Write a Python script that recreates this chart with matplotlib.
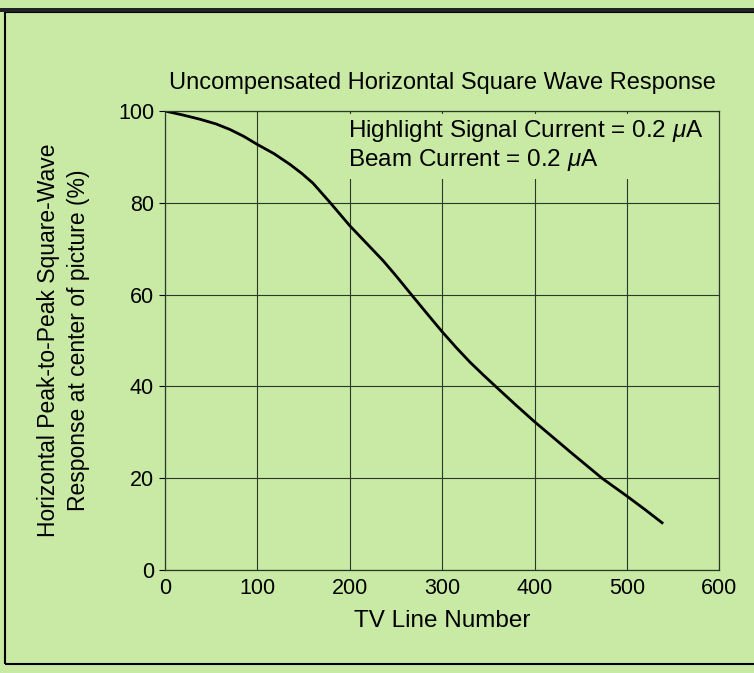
import matplotlib.pyplot as plt
import numpy as np
from matplotlib.patches import Rectangle
from matplotlib import font_manager

# curve
tv_lines = [0, 20, 38, 55, 70, 85, 100, 118, 135, 148, 160, 178, 200, 218, 236, 250, 265,
            283, 300, 315, 330, 345, 360, 380, 400, 420, 440, 473, 500, 520, 538]
response = [100, 99.1, 98.2, 97.2, 96, 94.5, 92.7, 90.7, 88.4, 86.4, 84.3, 80.2, 75, 71.2, 67.4,
            64.1, 60.4, 56, 51.9, 48.5, 45.3, 42.4, 39.6, 35.9, 32.3, 28.9, 25.5, 20, 16.1, 13.1, 10.3]

xticks = [0, 100, 200, 300, 400, 500, 600]
yticks = [0, 20, 40, 60, 80, 100]

bg = '#c8eaa4'
names = {f.name for f in font_manager.fontManager.ttflist}
narrow = 'Liberation Sans Narrow' if 'Liberation Sans Narrow' in names else 'Liberation Sans'
plt.rcParams['font.family'] = ['Liberation Sans', 'DejaVu Sans']
plt.rcParams['mathtext.fontset'] = 'custom'
plt.rcParams['mathtext.it'] = 'Liberation Sans:italic'

fig = plt.figure(figsize=(7.54, 6.73), dpi=100, facecolor=bg)
ax = fig.add_axes([0.219, 0.153, 0.735, 0.682])
ax.set_facecolor(bg)

# panel border
fig.patches.append(Rectangle((0.006, 0.014), 1.0, 0.968, transform=fig.transFigure,
                             fill=False, edgecolor='black', linewidth=1.5))
fig.patches.append(Rectangle((0.0, 0.982), 1.0, 0.006, transform=fig.transFigure,
                             facecolor='#222222', edgecolor='none'))

ax.plot(tv_lines, response, color='black', lw=2.0, solid_joinstyle='round')

ax.set_xlim(0, 600)
ax.set_ylim(0, 100)
ax.set_xticks(xticks)
ax.set_yticks(yticks)
ax.grid(True, color='#2a3a2a', lw=0.8)
for s in ax.spines.values():
    s.set_linewidth(0.9)
    s.set_color('#2a3a2a')
ax.tick_params(axis='x', length=0, pad=6, labelsize=15.5)
ax.tick_params(axis='y', length=4, direction='out', pad=4, labelsize=15.5)

ax.set_xlabel('TV Line Number', fontsize=17.5, labelpad=8)
ax.set_ylabel('Horizontal Peak-to-Peak Square-Wave\nResponse at center of picture (%)',
              fontsize=16.5, labelpad=20, linespacing=1.4)
fig.text(0.587, 0.877, 'Uncompensated Horizontal Square Wave Response',
         ha='center', va='center', fontsize=17, family=[narrow, 'DejaVu Sans'])

# gridlines are broken behind the annotation
ax.add_patch(Rectangle((192, 85.3), 407.5, 14.0, facecolor=bg, edgecolor='none', zorder=2))
ax.text(198, 95.6, r'Highlight Signal Current = 0.2 $\mathit{\mu}$A', fontsize=17.5,
        va='center', zorder=3)
ax.text(198, 89.3, r'Beam Current = 0.2 $\mathit{\mu}$A', fontsize=17.5, va='center', zorder=3)

fig.savefig('out.png', dpi=100, facecolor=bg)
